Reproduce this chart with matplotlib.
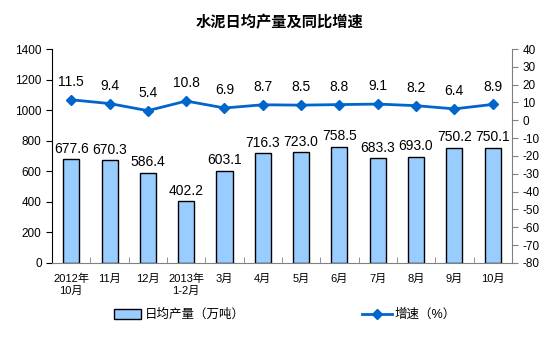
import matplotlib.pyplot as plt
import numpy as np

plt.rcParams['font.family'] = ['Liberation Sans', 'Noto Sans CJK SC']
plt.rcParams['axes.unicode_minus'] = False

months = ['2012年\n10月', '11月', '12月', '2013年\n1-2月', '3月', '4月',
          '5月', '6月', '7月', '8月', '9月', '10月']
output = [677.6, 670.3, 586.4, 402.2, 603.1, 716.3, 723.0, 758.5, 683.3, 693.0, 750.2, 750.1]
growth = [11.5, 9.4, 5.4, 10.8, 6.9, 8.7, 8.5, 8.8, 9.1, 8.2, 6.4, 8.9]

x = np.arange(len(months))

fig = plt.figure(figsize=(5.6, 3.5), dpi=100)
ax = fig.add_axes([0.093, 0.249, 0.821, 0.611])
ax2 = ax.twinx()

bars = ax.bar(x, output, width=0.42, color='#99CCFF', edgecolor='black', linewidth=1,
              label='日均产量（万吨）', zorder=2)
for xi, v in zip(x, output):
    ax.text(xi, v + 25, f'{v:.1f}', ha='center', va='bottom', fontsize=10)

ax.set_xlim(-0.5, len(months) - 0.5)
ax.set_ylim(0, 1400)
ax.set_yticks(range(0, 1401, 200))
ax.set_xticks(x)
ax.set_xticklabels(months, fontsize=8)
ax.set_xticks(np.arange(-0.5, len(months), 1), minor=True)
ax.tick_params(axis='x', which='major', length=0, pad=8)
ax.tick_params(axis='x', which='minor', length=4, color='#808080', direction='in')
ax.tick_params(axis='y', labelsize=8.5, length=4, color='black')
ax.spines['top'].set_visible(False)
ax.spines['right'].set_visible(False)
ax.spines['bottom'].set_color('#808080')

ax2.plot(x, growth, color='#0066CC', marker='D', markersize=5, linewidth=2,
         label='增速（%）', zorder=3)
for xi, v in zip(x, growth):
    ax2.text(xi, v + 6, f'{v:.1f}', ha='center', va='bottom', fontsize=10)
ax2.set_ylim(-80, 40)
ax2.set_yticks(range(-80, 41, 10))
ax2.tick_params(axis='y', labelsize=8.5, length=4, color='#808080')
ax2.spines['top'].set_visible(False)
ax2.spines['left'].set_visible(False)
ax2.spines['right'].set_color('#808080')
ax2.spines['bottom'].set_visible(False)

fig.text(0.5, 0.935, '水泥日均产量及同比增速', ha='center', va='center', fontsize=11, fontweight='bold')

fig.legend(handles=[bars], loc='center', bbox_to_anchor=(0.32, 0.1), frameon=False,
           fontsize=9, handlelength=2.2, handleheight=0.9, handletextpad=0.3)
fig.legend(handles=ax2.get_lines(), loc='center', bbox_to_anchor=(0.73, 0.1), frameon=False,
           fontsize=9, handlelength=2.4, handletextpad=0.2)

fig.savefig('out.png', dpi=100)
